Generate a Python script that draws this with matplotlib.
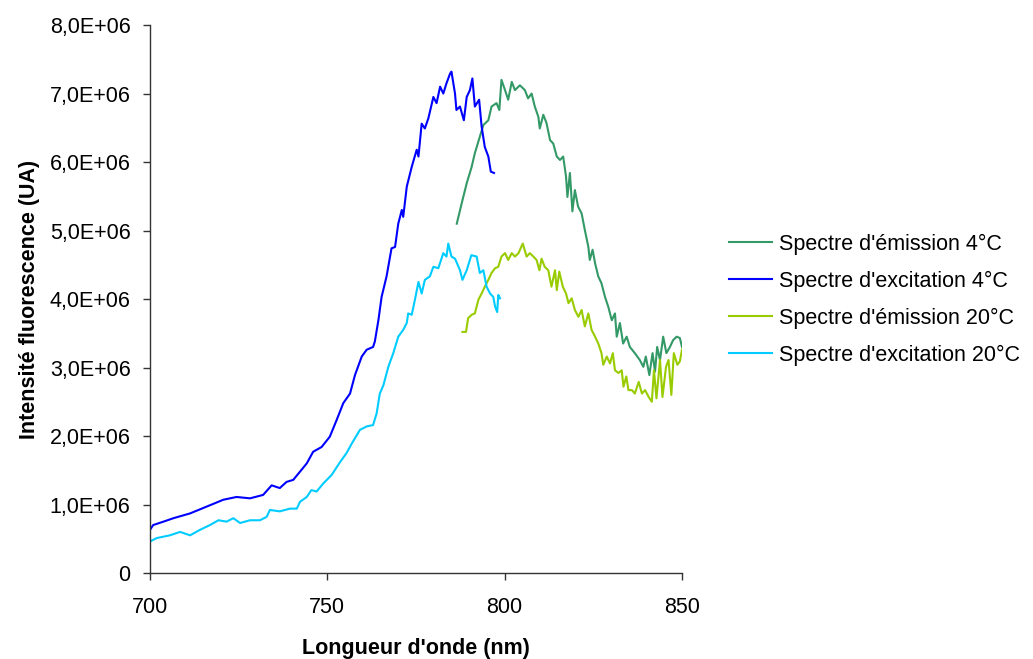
import matplotlib
matplotlib.use('Agg')
import matplotlib.pyplot as plt
from matplotlib.ticker import FuncFormatter, MultipleLocator

plt.rcParams['font.family'] = ['Liberation Sans', 'DejaVu Sans']

# values, intensities in units of 1e6
exc4_nm = [700, 700.9, 703.8, 706.6, 711.3, 716, 720.7, 724.4, 728.2, 731.9, 734.3, 736.6,
           738.5, 740.4, 742.3, 744.2, 746, 748.4, 750.7, 752.6, 754.5, 756.4, 757.8, 759.7,
           761.1, 762.9, 763.4, 764.4, 765.3, 766.7, 768.1, 769.1, 770, 771, 771.4, 772.4,
           773.8, 775.2, 775.7, 776.6, 777.5, 778.5, 779.9, 780.8, 781.8, 782.7, 783.6, 784.6,
           785, 786, 786.4, 787.4, 788.5, 789.3, 790.2, 790.9, 791.6, 792.8, 793.5, 794.4,
           795.4, 796.1, 797]
exc4_val = [0.63, 0.70, 0.75, 0.80, 0.87, 0.97, 1.07, 1.11, 1.09, 1.14, 1.28, 1.24,
            1.33, 1.36, 1.48, 1.60, 1.77, 1.84, 1.99, 2.23, 2.48, 2.62, 2.89, 3.16,
            3.26, 3.30, 3.38, 3.69, 4.03, 4.33, 4.74, 4.76, 5.10, 5.30, 5.20, 5.64,
            5.93, 6.18, 6.08, 6.56, 6.49, 6.64, 6.95, 6.86, 7.10, 7.00, 7.15, 7.29,
            7.32, 7.00, 6.76, 6.81, 6.61, 6.95, 7.05, 7.22, 6.81, 6.91, 6.52, 6.22,
            6.08, 5.86, 5.84]

exc20_nm = [700, 701.9, 705.6, 708.5, 711.3, 714.1, 716.9, 719.3, 721.6, 723.5, 725.4, 728.2,
            731, 732.9, 733.8, 736.6, 739.5, 741.4, 742.3, 744.2, 745.5, 747, 748.9, 751.2,
            753.6, 755.4, 756.9, 759.2, 761.1, 762.9, 763.9, 764.8, 765.8, 767.2, 768.6, 770,
            771.4, 772.4, 772.8, 773.8, 774.7, 775.7, 776.6, 777.5, 778.9, 779.9, 781.3, 782.7,
            783.6, 784.1, 785, 786, 787.4, 788.1, 789.3, 790.6, 792.1, 793, 794, 794.9,
            795.9, 796.8, 797.3, 797.9, 798.2, 798.7]
exc20_val = [0.46, 0.51, 0.55, 0.60, 0.55, 0.63, 0.70, 0.77, 0.75, 0.80, 0.73, 0.77,
             0.77, 0.82, 0.92, 0.90, 0.94, 0.94, 1.04, 1.11, 1.21, 1.19, 1.31, 1.43,
             1.62, 1.75, 1.89, 2.09, 2.14, 2.16, 2.33, 2.62, 2.74, 3.01, 3.21, 3.45,
             3.55, 3.65, 3.79, 3.77, 3.99, 4.25, 4.08, 4.28, 4.33, 4.47, 4.45, 4.67,
             4.62, 4.81, 4.62, 4.59, 4.42, 4.28, 4.42, 4.64, 4.62, 4.38, 4.42, 4.18,
             4.08, 4.03, 3.89, 3.81, 4.06, 4.01]

em4_nm = [786.5, 787.9, 789.3, 790.7, 791.6, 793, 794, 795.4, 796.3, 797.7, 798.5, 799.1,
          800.1, 801, 802, 802.9, 804.3, 805.7, 806.6, 807.6, 808.5, 809.5, 809.9, 810.9,
          811.8, 812.8, 813.7, 814.7, 815.6, 816.5, 817.3, 817.7, 818.4, 819.1, 819.8, 820.7,
          821.7, 822.6, 823.6, 824, 824.8, 825.5, 826.4, 827.3, 828.3, 829.2, 830.2, 831.1,
          831.6, 832.5, 833.4, 834.4, 835.3, 836.7, 838.1, 839.1, 839.8, 840.8, 841.7, 842.4,
          843, 843.8, 844.7, 845.6, 846.6, 847.5, 848.5, 849.4, 850]
em4_val = [5.10, 5.40, 5.69, 5.93, 6.13, 6.37, 6.54, 6.61, 6.81, 6.86, 6.76, 7.20,
           7.05, 6.91, 7.17, 7.05, 7.12, 7.05, 6.93, 7.00, 6.81, 6.66, 6.49, 6.69,
           6.57, 6.32, 6.27, 6.08, 6.03, 6.08, 5.79, 5.49, 5.84, 5.28, 5.59, 5.35,
           5.25, 5.01, 4.76, 4.57, 4.72, 4.52, 4.33, 4.23, 4.03, 3.89, 3.69, 3.79,
           3.45, 3.65, 3.35, 3.45, 3.30, 3.21, 3.11, 3.01, 3.16, 2.89, 3.21, 2.94,
           3.30, 3.11, 3.45, 3.21, 3.30, 3.40, 3.45, 3.43, 3.30]

em20_nm = [788.1, 789.1, 789.7, 790.7, 791.6, 792.6, 793.5, 794.4, 795.4, 796.3, 797.3, 798.2,
           799.1, 800.1, 801, 802, 802.9, 803.9, 805.1, 806.2, 807.1, 808.1, 809, 809.8,
           810.4, 811.3, 812.3, 813.2, 814.2, 814.7, 815.4, 816.4, 817.3, 818, 818.9, 819.8,
           820.8, 821.7, 822.6, 823.6, 824.5, 825.5, 826.4, 827.3, 827.8, 828.8, 829.7, 830.5,
           831.1, 832.1, 833, 833.5, 834.3, 834.9, 835.9, 836.7, 837.8, 838.7, 839.6, 840.6,
           841.5, 842.1, 842.8, 843.8, 844.5, 845.5, 846.2, 847, 847.7, 848.7, 849.4, 850]
em20_val = [3.52, 3.52, 3.72, 3.77, 3.79, 3.99, 4.08, 4.18, 4.28, 4.38, 4.45, 4.47,
            4.62, 4.67, 4.57, 4.67, 4.62, 4.67, 4.81, 4.62, 4.67, 4.62, 4.57, 4.42,
            4.59, 4.47, 4.42, 4.18, 4.42, 4.13, 4.40, 4.18, 4.08, 3.94, 4.01, 3.84,
            3.74, 3.84, 3.60, 3.79, 3.55, 3.45, 3.35, 3.21, 3.04, 3.16, 3.06, 3.21,
            2.96, 2.92, 2.96, 2.72, 2.87, 2.67, 2.67, 2.62, 2.79, 2.62, 2.67, 2.57,
            2.50, 2.96, 2.55, 3.11, 2.57, 3.01, 3.11, 2.60, 3.21, 3.04, 3.09, 3.26]

def scale(v):
    return [x * 1e6 for x in v]

fig = plt.figure(figsize=(10.33, 6.59), dpi=100)
ax = fig.add_axes([0.1452, 0.1305, 0.515, 0.8315])

lw = 1.5
ax.plot(em4_nm, scale(em4_val), color='#339966', lw=lw, label="Spectre d'émission 4°C")
ax.plot(exc4_nm, scale(exc4_val), color='#0000FF', lw=lw, label="Spectre d'excitation 4°C")
ax.plot(em20_nm, scale(em20_val), color='#99CC00', lw=lw, label="Spectre d'émission 20°C")
ax.plot(exc20_nm, scale(exc20_val), color='#00CCFF', lw=lw, label="Spectre d'excitation 20°C")

ax.set_xlim(700, 850)
ax.set_ylim(0, 8e6)
ax.xaxis.set_major_locator(MultipleLocator(50))
ax.yaxis.set_major_locator(MultipleLocator(1e6))

def yfmt(v, pos):
    if v == 0:
        return '0'
    s = '%.1E' % v
    return s.replace('.', ',')

ax.yaxis.set_major_formatter(FuncFormatter(yfmt))
ax.spines['top'].set_visible(False)
ax.spines['right'].set_visible(False)
for sp in ('left', 'bottom'):
    ax.spines[sp].set_color('#333333')
    ax.spines[sp].set_linewidth(1.0)
ax.tick_params(direction='out', length=5, width=1, colors='#333333', labelcolor='black',
               labelsize=15.5)
ax.tick_params(axis='x', pad=12)
ax.tick_params(axis='y', pad=9)

ax.set_xlabel("Longueur d'onde (nm)", fontsize=15.5, fontweight='bold', labelpad=15)
ax.set_ylabel("Intensité fluorescence (UA)", fontsize=15.5, fontweight='bold', labelpad=7)

ax.legend(loc='center left', bbox_to_anchor=(0.687, 0.545), bbox_transform=fig.transFigure,
          frameon=False, fontsize=15.5, handlelength=2.0, handletextpad=0.3,
          labelspacing=0.74)

fig.savefig('out.png', dpi=100)
